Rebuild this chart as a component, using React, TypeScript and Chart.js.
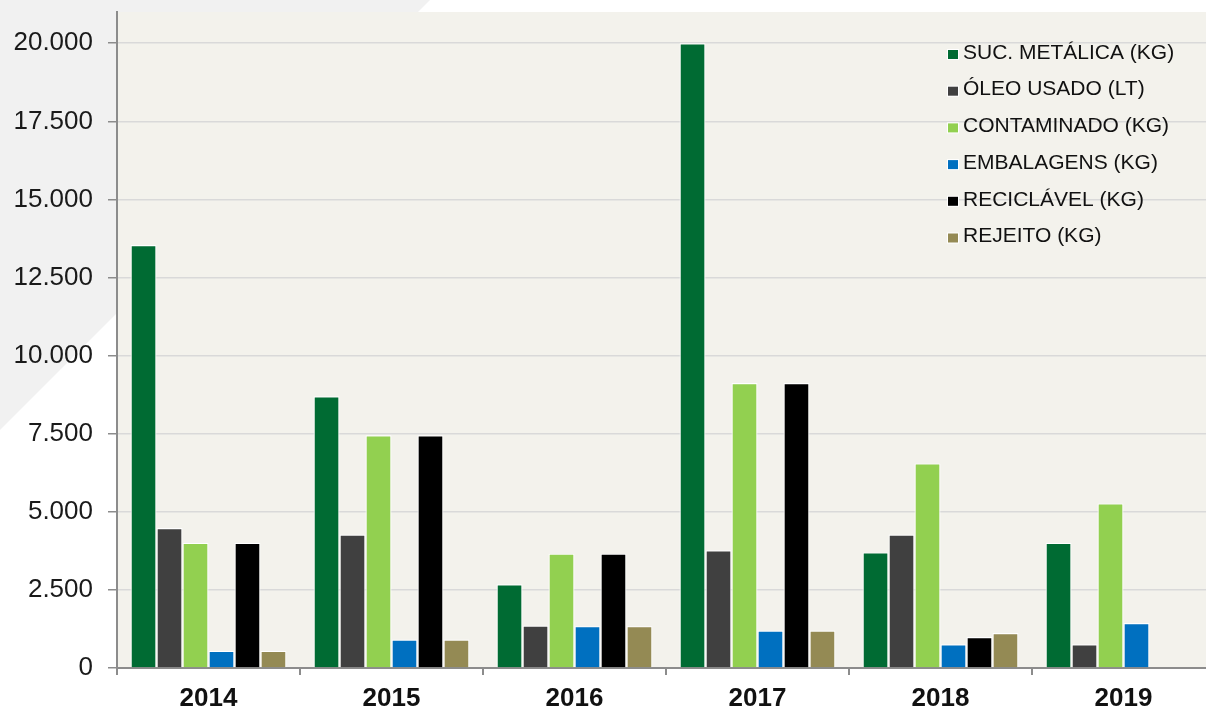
import React, { useEffect, useRef } from "react";
import { Chart, registerables } from "chart.js";

Chart.register(...registerables);

const categories = ["2014", "2015", "2016", "2017", "2018", "2019"];
const sucMetalica = [13540, 8700, 2680, 20000, 3700, 4010];
const oleoUsado = [4480, 4270, 1360, 3770, 4270, 760];
const contaminado = [4010, 7450, 3660, 9120, 6550, 5270];
const embalagens = [550, 910, 1340, 1200, 760, 1440];
const reciclavel = [4010, 7450, 3660, 9120, 990, null];
const rejeito = [550, 910, 1340, 1200, 1120, null];

const seriesLabels = [
  "SUC. METÁLICA (KG)",
  "ÓLEO USADO (LT)",
  "CONTAMINADO (KG)",
  "EMBALAGENS (KG)",
  "RECICLÁVEL (KG)",
  "REJEITO (KG)",
];
const seriesColors = ["#006b33", "#404040", "#92d050", "#0070c0", "#000000", "#948a54"];
const yTicks = [0, 2500, 5000, 7500, 10000, 12500, 15000, 17500, 20000];

const FONT = "Arial, 'Liberation Sans', sans-serif";

const fmt = (v: number) => String(v).replace(/\B(?=(\d{3})+(?!\d))/g, ".");

const bgPlugin = {
  id: "bgPlugin",
  beforeDraw(chart: any) {
    const { ctx, chartArea } = chart;
    ctx.save();
    ctx.fillStyle = "#ffffff";
    ctx.fillRect(0, 0, chart.width, chart.height);
    ctx.fillStyle = "#f1f1f1";
    ctx.beginPath();
    ctx.moveTo(0, 0);
    ctx.lineTo(430, 0);
    ctx.lineTo(0, 430);
    ctx.closePath();
    ctx.fill();
    ctx.fillStyle = "#f3f2ec";
    ctx.fillRect(chartArea.left, chartArea.top, chartArea.right - chartArea.left, chartArea.bottom - chartArea.top);
    ctx.restore();
  },
};

const legendPlugin = {
  id: "customLegend",
  afterDraw(chart: any) {
    const { ctx } = chart;
    ctx.save();
    ctx.font = `21px ${FONT}`;
    ctx.textBaseline = "middle";
    ctx.textAlign = "left";
    chart.data.datasets.forEach((ds: any, i: number) => {
      const y = 53 + i * 36.7;
      ctx.fillStyle = "#ffffff";
      ctx.fillRect(947, y - 5 + 1, 12, 11);
      ctx.fillStyle = ds.backgroundColor;
      ctx.fillRect(948, y - 4 + 1, 10, 9);
      ctx.fillStyle = "#111111";
      ctx.fillText(ds.label, 963, y);
    });
    ctx.restore();
  },
};

export default function App() {
  const ref = useRef<HTMLCanvasElement | null>(null);
  useEffect(() => {
    document.body.style.margin = "0";
    document.body.style.overflow = "hidden";
    const series = [sucMetalica, oleoUsado, contaminado, embalagens, reciclavel, rejeito];
    const chart = new Chart(ref.current as HTMLCanvasElement, {
      type: "bar",
      data: {
        labels: categories,
        datasets: series.map((d, i) => ({
          label: seriesLabels[i],
          data: d,
          backgroundColor: seriesColors[i],
          borderColor: "#ffffff",
          borderWidth: 1.2,
          barPercentage: 1,
          categoryPercentage: 0.852,
        })),
      },
      options: {
        responsive: false,
        animation: false,
        devicePixelRatio: 1,
        layout: { padding: { top: 12, left: 0, right: 0, bottom: 0 } },
        plugins: {
          legend: { display: false },
          tooltip: { enabled: false },
        },
        scales: {
          x: {
            offset: true,
            ticks: { font: { family: FONT, size: 26, weight: "bold" }, color: "#111111", padding: 8 },
            grid: { offset: true, drawOnChartArea: false, tickLength: 7, tickColor: "#8c8c8c", lineWidth: 2 },
            border: { color: "#8c8c8c", width: 2 },
            afterFit: (s: any) => {
              s.height = 43;
              s.paddingLeft = 0;
              s.paddingRight = 0;
            },
          },
          y: {
            min: 0,
            max: 21000,
            ticks: {
              stepSize: 2500,
              font: { family: FONT, size: 26 },
              color: "#1a1a1a",
              padding: 15,
              callback: (v: any) => fmt(Number(v)),
            },
            afterBuildTicks: (s: any) => {
              s.ticks = yTicks.map((v) => ({ value: v }));
            },
            grid: { color: "#d9d9d9", lineWidth: 1.5, tickColor: "#8c8c8c", tickLength: 9 },
            border: { color: "#8c8c8c", width: 2 },
            afterFit: (s: any) => {
              s.width = 117;
              s.paddingTop = 0;
              s.paddingBottom = 0;
            },
          },
        },
      },
      plugins: [bgPlugin, legendPlugin],
    } as any);
    return () => chart.destroy();
  }, []);
  return (
    <div style={{ position: "fixed", left: 0, top: 0, width: 1206, height: 711, overflow: "hidden", background: "#fff" }}>
      <canvas ref={ref} width={1215} height={711} style={{ display: "block", width: 1215, height: 711 }} />
    </div>
  );
}
